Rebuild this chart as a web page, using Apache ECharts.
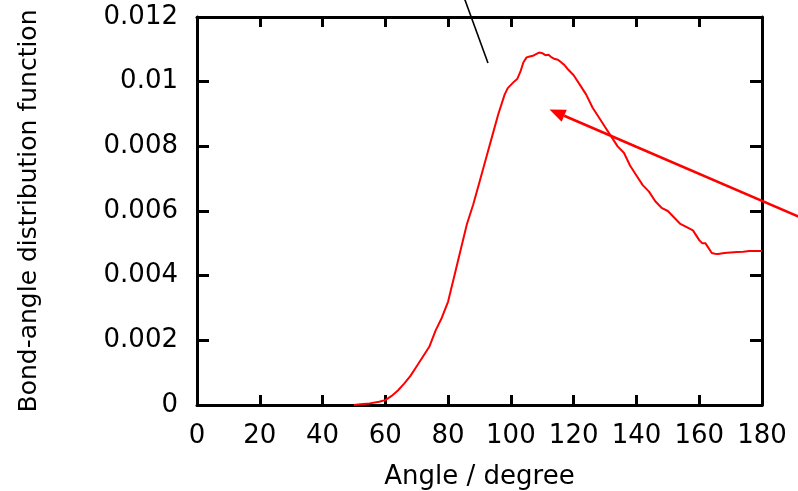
<!DOCTYPE html>
<html>
<head>
<meta charset="utf-8">
<script src="https://cdn.jsdelivr.net/npm/echarts@6/dist/echarts.min.js"></script>
<style>
html,body{margin:0;padding:0;background:#fff;}
#chart{width:798px;height:491px;}
</style>
</head>
<body>
<div id="chart"></div>
<script>
// Data
const angles = [50,52,55,58,60,62,64,66,68,70,72,74,76,78,80,81,82,84,86,88,90,92,94,96,98,99,100,101,102,103,104,105,106,107,108,109,110,111,112,113,114,115,116,117,118,120,122,124,126,128,130,132,134,136,138,140,142,144,146,148,150,152,154,156,158,160,161,162,164,165,166,168,170,172,174,176,178,180];
const badf = [0,0.00002,0.00005,0.0001,0.00015,0.00028,0.00045,0.00066,0.0009,0.0012,0.0015,0.0018,0.0023,0.0027,0.0032,0.0036,0.0040,0.0048,0.0056,0.0062,0.0069,0.0076,0.0083,0.0090,0.0096,0.0098,0.0099,0.0100,0.01008,0.0103,0.0106,0.01075,0.01078,0.0108,0.01085,0.0109,0.01088,0.01082,0.01083,0.01075,0.0107,0.01068,0.0106,0.01052,0.0104,0.0102,0.0099,0.0096,0.0092,0.0089,0.0086,0.0083,0.0080,0.0078,0.0074,0.0071,0.0068,0.0066,0.0063,0.0061,0.0060,0.0058,0.0056,0.0055,0.0054,0.0051,0.0050,0.0050,0.0047,0.00468,0.00467,0.0047,0.00472,0.00473,0.00474,0.00476,0.00476,0.00476];
const xTicks = {min:0, max:180, interval:20};
const yTicks = {min:0, max:0.012, interval:0.002};
// Annotation lines (data coordinates): [tail, head]
const redArrow = [[198.5, 0.00554],[112.3, 0.00914]];
const blackLine = [[84.2, 0.01284],[92.7, 0.01058]];

const seriesData = angles.map((a,i)=>[a,badf[i]]);
const FONT = 'DejaVu Sans';
function frameAxis(extra){
  return Object.assign({
    type:'value',
    axisLine:{show:true, onZero:false, lineStyle:{color:'#000', width:3}},
    splitLine:{show:false}
  }, extra);
}
const chart = echarts.init(document.getElementById('chart'));
chart.setOption({
  animation:false,
  backgroundColor:'#fff',
  grid:{left:197, top:17, right:36, bottom:86, containLabel:false, outerBoundsMode:'none'},
  xAxis:[
    frameAxis({position:'bottom', min:xTicks.min, max:xTicks.max, interval:xTicks.interval,
      name:'Angle / degree', nameLocation:'middle', nameGap:59,
      nameTextStyle:{fontFamily:FONT, fontSize:26, color:'#000'},
      axisTick:{show:true, inside:true, length:10, lineStyle:{color:'#000', width:3}},
      axisLabel:{show:true, margin:18, fontFamily:FONT, fontSize:26, color:'#000'}}),
    frameAxis({position:'top', min:xTicks.min, max:xTicks.max, interval:xTicks.interval,
      axisTick:{show:true, inside:true, length:10, lineStyle:{color:'#000', width:3}},
      axisLabel:{show:false}})
  ],
  yAxis:[
    frameAxis({position:'left', min:yTicks.min, max:yTicks.max, interval:yTicks.interval,
      name:'Bond-angle distribution function', nameLocation:'middle', nameGap:155, nameRotate:90,
      nameTextStyle:{fontFamily:FONT, fontSize:25, color:'#000'},
      axisTick:{show:true, inside:true, length:12, lineStyle:{color:'#000', width:3}},
      axisLabel:{show:true, margin:19, fontFamily:FONT, fontSize:26, color:'#000'}}),
    frameAxis({position:'right', min:yTicks.min, max:yTicks.max, interval:yTicks.interval,
      axisTick:{show:true, inside:true, length:12, lineStyle:{color:'#000', width:3}},
      axisLabel:{show:false}})
  ],
  series:[{
    type:'line', xAxisIndex:0, yAxisIndex:0, data:seriesData, showSymbol:false, symbol:'none',
    z:3, lineStyle:{color:'#ff0000', width:2}
  }]
});

// Annotations placed through the axes' own scales
function px(p){ return chart.convertToPixel({xAxisIndex:0, yAxisIndex:0}, p); }
const rt = px(redArrow[0]), rh = px(redArrow[1]);
const bt = px(blackLine[0]), bh = px(blackLine[1]);
const dx = rt[0]-rh[0], dy = rt[1]-rh[1], L = Math.sqrt(dx*dx+dy*dy);
const ux = dx/L, uy = dy/L, headLen = 16, headHalf = 6.5;
const base = [rh[0]+ux*headLen, rh[1]+uy*headLen];
chart.setOption({
  graphic:[
    {type:'line', z:10, silent:true, shape:{x1:rt[0], y1:rt[1], x2:base[0], y2:base[1]},
     style:{stroke:'#ff0000', lineWidth:2.6}},
    {type:'polygon', z:10, silent:true, shape:{points:[
      [rh[0], rh[1]],
      [base[0]-uy*headHalf, base[1]+ux*headHalf],
      [base[0]+uy*headHalf, base[1]-ux*headHalf]]},
     style:{fill:'#ff0000'}},
    {type:'line', z:10, silent:true, shape:{x1:bt[0], y1:bt[1], x2:bh[0], y2:bh[1]},
     style:{stroke:'#000', lineWidth:1.6}}
  ]
});
</script>
</body>
</html>
